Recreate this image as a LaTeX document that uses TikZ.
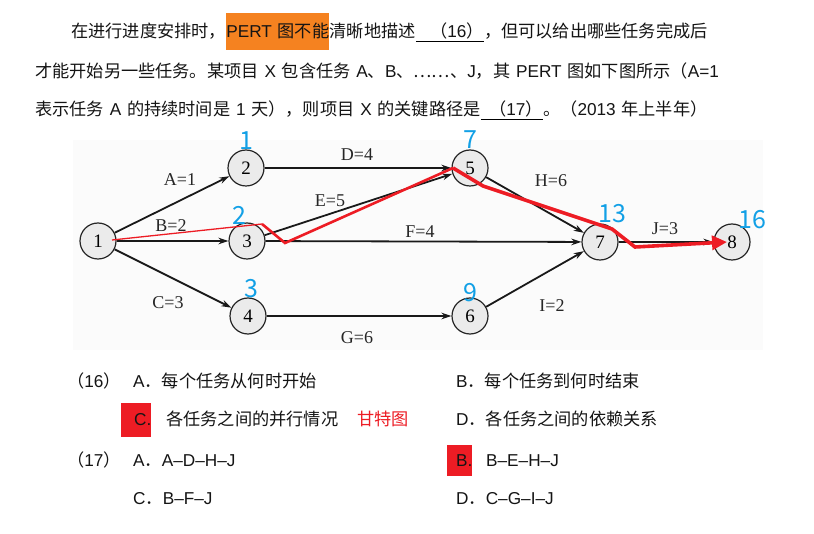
\documentclass[tikz,border=0pt]{standalone}
\usepackage{fontspec}
\newfontfamily\cjk[WordSpace=1.5]{Noto Sans CJK SC}
\newfontfamily\lat{Liberation Sans}
\newfontfamily\tms{Liberation Serif}
\newcommand\la[1]{{\lat #1}}
\usetikzlibrary{arrows.meta,positioning,calc}
\definecolor{pertorange}{HTML}{F58220}
\definecolor{markred}{HTML}{ED1C24}
\definecolor{estblue}{HTML}{12A0E6}

\begin{document}
\begin{tikzpicture}[
    x=1pt,y=-1pt,
    txt/.style={font=\cjk\fontsize{17.2}{20}\selectfont, text=black!92, inner sep=0pt, anchor=base west},
    blank/.style={txt, text depth=3.5pt},
    hilite/.style={txt, inner sep=0pt},
    vertex/.style={circle, draw=black!85, line width=1.2pt, fill=black!8,
        minimum size=36pt, inner sep=0pt, font=\tms\fontsize{19}{19}\selectfont},
    act/.style={draw=black!90, line width=1.8pt, -{Stealth[length=10pt,width=6.5pt]}},
    wt/.style={font=\tms\fontsize{18}{18}\selectfont, text=black!85, inner sep=1pt},
    est/.style={font=\cjk\fontsize{25}{25}\selectfont, text=estblue, inner sep=0pt},
    crit/.style={draw=markred, line width=3.6pt, line join=miter}
]
\useasboundingbox[fill=white] (0,0) rectangle (814,534);

% ===== question text =====
\node[txt] (l1a) at (71,38) {在进行进度安排时，};
\node[hilite, fill=pertorange, text height=25pt, text depth=12pt] (l1b) at (l1a.base east) {\la{PERT} 图不能};
\node[txt] (l1c) at (l1b.base east) {清晰地描述};
\node[blank] (l1d) at (l1c.base east) {\hspace{14pt}（\la{16}）\hspace{14pt}};
\draw[line width=0.9pt] (l1d.south west) -- (l1d.south east);
\node[txt] (l1e) at (l1d.base east) {，但可以给出哪些任务完成后};

\node[txt] (l2) at (35,78) {才能开始另一些任务。某项目 \la{X} 包含任务 \la{A}、\la{B}、……、\la{J}，其 \la{PERT} 图如下图所示（\la{A=1}};

\node[txt] (l3a) at (35,116) {表示任务 \la{A} 的持续时间是 \la{1} 天），则项目 \la{X} 的关键路径是};
\node[blank] (l3b) at (l3a.base east) {\hspace{8pt}（\la{17}）\hspace{8pt}};
\draw[line width=0.9pt] (l3b.south west) -- (l3b.south east);
\node[txt] (l3c) at (l3b.base east) {。（\la{2013} 年上半年）};

% ===== PERT graph =====
\fill[black!1.5] (73,140) rectangle (763,350);

\node[vertex] (v1) at (98,241) {1};
\node[vertex] (v2) at (246,168) {2};
\node[vertex] (v3) at (247,241) {3};
\node[vertex] (v4) at (248,316) {4};
\node[vertex] (v5) at (470,168) {5};
\node[vertex] (v6) at (470,316) {6};
\node[vertex] (v7) at (600,242) {7};
\node[vertex] (v8) at (732,242) {8};

\draw[act] (v1) -- (v2);
\draw[act] (v1) -- (v3);
\draw[act] (v1) -- (v4);
\draw[act] (v2) -- (v5);
\draw[act] (v3) -- (v5);
\draw[act] (v3) -- (v7);
\draw[act] (v4) -- (v6);
\draw[act] (v5) -- (v7);
\draw[act] (v6) -- (v7);
\draw[act] (v7) -- (v8);

% activity durations
\node[wt] (wA) at (180,180) {A=1};
\node[wt] (wB) at (171,226) {B=2};
\node[wt] (wC) at (168,303) {C=3};
\node[wt] (wD) at (357,155) {D=4};
\node[wt] (wE) at (330,201) {E=5};
\node[wt] (wF) at (420,232) {F=4};
\node[wt] (wG) at (357,338) {G=6};
\node[wt] (wH) at (551,181) {H=6};
\node[wt] (wI) at (552,306) {I=2};
\node[wt] (wJ) at (665,229) {J=3};

% earliest times
\node[est] (e2) at (246,141) {1};
\node[est] (e3) at (239,215) {2};
\node[est] (e4) at (251,289) {3};
\node[est] (e5) at (470,140) {7};
\node[est] (e6) at (470,293) {9};
\node[est] (e7) at (612,214) {13};
\node[est] (e8) at (752,220) {16};

% critical path B-E-H-J
\coordinate (r0) at (112,240);
\coordinate (r1) at (262,224);
\coordinate (r2) at (285,243);
\coordinate (r3) at (453,168);
\coordinate (r4) at (483,186);
\coordinate (r5) at (612,229);
\coordinate (r6) at (635,247);
\coordinate (r7) at (727,242);
\draw[markred, line width=1.3pt] (r0) -- (r1);
\draw[crit, line width=2.6pt] (r1) -- (r2) -- (r3);
\draw[crit, -{Triangle[length=15pt,width=14pt]}] (r3) -- (r4) -- (r5) -- (r6) -- (r7);

% ===== options =====
\node[txt] (q16) at (67,388) {（\la{16}）};
\node[txt] (o16a) at (133,388) {\la{A}．每个任务从何时开始};
\node[txt] (o16b) at (456,388) {\la{B}．每个任务到何时结束};
\node[hilite, fill=markred, text height=23pt, text depth=11pt] (o16c) at (121,426) {\hspace{13pt}\la{C.}\hspace{10pt}};
\node[txt] (o16ct) at (166,426) {各任务之间的并行情况};
\node[txt, text=markred] (gantt) at (357,426) {甘特图};
\node[txt] (o16d) at (456,426) {\la{D}．各任务之间的依赖关系};

\node[txt] (q17) at (67,466) {（\la{17}）};
\node[txt] (o17a) at (133,466) {\la{A}．\la{A–D–H–J}};
\node[hilite, fill=markred, text height=21pt, text depth=10pt] (o17b) at (447,466) {\hspace{9pt}\la{B.}\hspace{5pt}};
\node[txt] (o17bt) at (486,466) {\la{B–E–H–J}};
\node[txt] (o17c) at (133,504) {\la{C}．\la{B–F–J}};
\node[txt] (o17d) at (456,504) {\la{D}．\la{C–G–I–J}};
\end{tikzpicture}
\end{document}
